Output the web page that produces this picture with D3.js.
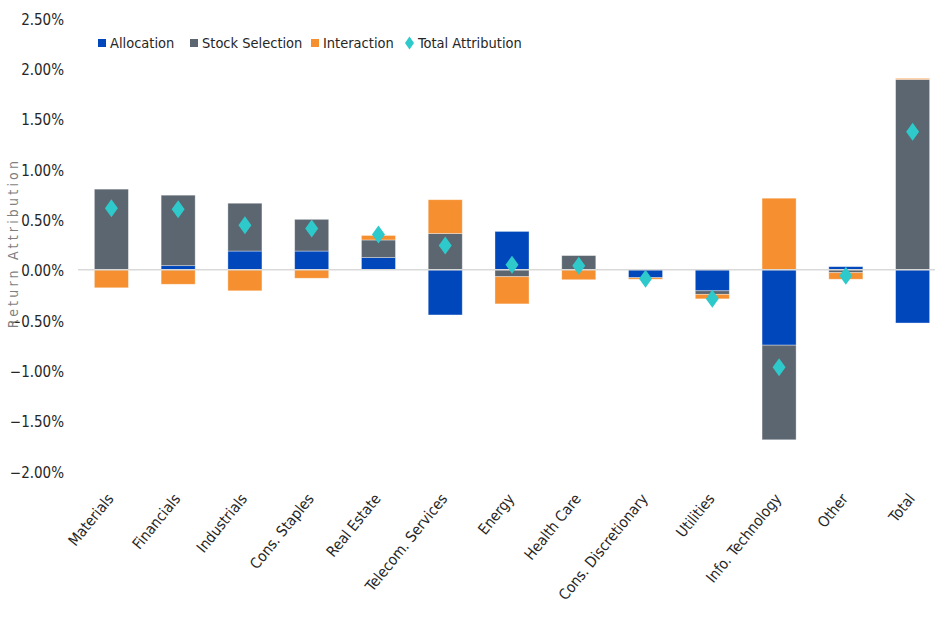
<!DOCTYPE html>
<html>
<head>
<meta charset="utf-8">
<script src="https://cdn.jsdelivr.net/npm/d3@7"></script>
<style>
  body { margin: 0; background: #fff; }
  text { font-family: 'Liberation Sans Narrow', 'DejaVu Sans Condensed', 'Liberation Sans', sans-serif; }
</style>
</head>
<body>
<svg id="chart" width="935" height="617"></svg>
<script>
//chart data (values in %)
const categories = ['Materials', 'Financials', 'Industrials', 'Cons. Staples', 'Real Estate',
  'Telecom. Services', 'Energy', 'Health Care', 'Cons. Discretionary', 'Utilities',
  'Info. Technology', 'Other', 'Total']
const allocation = [0.00, 0.04, 0.185, 0.185, 0.12, -0.45, 0.38, 0.00, -0.08, -0.21, -0.75, 0.03, -0.53]
const stockSelection = [0.80, 0.70, 0.475, 0.315, 0.175, 0.36, -0.07, 0.14, 0.00, -0.035, -0.94, -0.03, 1.89]
const interaction = [-0.18, -0.145, -0.21, -0.085, 0.045, 0.335, -0.27, -0.10, -0.015, -0.045, 0.71, -0.065, 0.01]
const totalAttribution = [0.61, 0.60, 0.44, 0.41, 0.35, 0.24, 0.05, 0.04, -0.09, -0.29, -0.97, -0.06, 1.37]
const yTicks = [-2.0, -1.5, -1.0, -0.5, 0.0, 0.5, 1.0, 1.5, 2.0, 2.5]

const seriesKeys = ['Allocation', 'Stock Selection', 'Interaction']
const seriesColor = d3.scaleOrdinal()
  .domain(seriesKeys)
  .range(['#0047bb', '#5b6670', '#f58f2f'])
const diamondColor = '#2ec9cb'

// build rows for d3.stack
var rows = categories.map(function (c, i) {
  return {
    category: c,
    'Allocation': allocation[i],
    'Stock Selection': stockSelection[i],
    'Interaction': interaction[i]
  }
})

var svg = d3.select('#chart')

// scales
var x = d3.scaleBand()
  .domain(categories)
  .range([78, 946])
  .paddingInner(0.49)
  .paddingOuter(0.245)

var y = d3.scaleLinear()
  .domain([-2, 2.5])
  .range([471, 18])

// y axis labels (no axis line)
var yAxis = svg.append('g')
  .attr('transform', 'translate(64,0)')
  .call(d3.axisLeft(y).tickValues(yTicks).tickSize(0).tickPadding(0)
    .tickFormat(function (d) { return d3.format('.2f')(d) + '%' }))
yAxis.select('.domain').remove()
yAxis.selectAll('text')
  .attr('dy', '0.4em')
  .style('font-size', '15px')
  .style('fill', '#262626')

// y axis title
svg.append('text')
  .attr('transform', 'translate(18,' + 243 + ') rotate(-90)')
  .attr('text-anchor', 'middle')
  .style('font-size', '14px')
  .style('letter-spacing', '3.2px')
  .style('fill', '#7f7f7f')
  .text('Return Attribution')

// stacked bars, positives and negatives stacked separately
var stacked = d3.stack()
  .keys(seriesKeys)
  .offset(d3.stackOffsetDiverging)(rows)

svg.append('g')
  .selectAll('g')
  .data(stacked)
  .enter()
  .append('g')
  .attr('fill', function (d) { return seriesColor(d.key) })
  .selectAll('rect')
  .data(function (d) { return d })
  .enter()
  .append('rect')
  .attr('x', function (d) { return x(d.data.category) })
  .attr('width', x.bandwidth())
  .attr('y', function (d) { return y(Math.max(d[0], d[1])) })
  .attr('height', function (d) { return Math.abs(y(d[0]) - y(d[1])) })
  .attr('stroke', '#ffffff')
  .attr('stroke-opacity', 0.45)
  .attr('stroke-width', 0.8)

// zero line
svg.append('line')
  .attr('x1', x.range()[0])
  .attr('x2', 935)
  .attr('y1', y(0))
  .attr('y2', y(0))
  .style('stroke', '#d9d9d9')
  .style('stroke-width', 1.5)

// diamond marker path
function diamond(w, h) {
  return 'M0,' + (-h / 2) + 'L' + (w / 2) + ',0L0,' + (h / 2) + 'L' + (-w / 2) + ',0Z'
}

// total attribution markers
svg.append('g')
  .selectAll('path')
  .data(totalAttribution)
  .enter()
  .append('path')
  .attr('transform', function (d, i) {
    return 'translate(' + (x(categories[i]) + x.bandwidth() / 2) + ',' + y(d) + ')'
  })
  .attr('d', diamond(13, 18))
  .style('fill', diamondColor)

// x axis labels, rotated
svg.append('g')
  .selectAll('text')
  .data(categories)
  .enter()
  .append('text')
  .attr('transform', function (d) {
    return 'translate(' + (x(d) + x.bandwidth() / 2 + 3) + ',' + 499 + ') rotate(-51)'
  })
  .attr('text-anchor', 'end')
  .style('font-size', '15px')
  .style('fill', '#262626')
  .text(function (d) { return d })

// legend
var legendItems = [
  { key: 'Allocation', x: 98 },
  { key: 'Stock Selection', x: 190 },
  { key: 'Interaction', x: 311 },
  { key: 'Total Attribution', x: 405 }
]
var legend = svg.append('g')
  .selectAll('g')
  .data(legendItems)
  .enter()
  .append('g')
  .attr('transform', function (d) { return 'translate(' + d.x + ',43)' })

legend.each(function (d) {
  var g = d3.select(this)
  if (d.key === 'Total Attribution') {
    g.append('path')
      .attr('transform', 'translate(4.5,0)')
      .attr('d', diamond(9, 13))
      .style('fill', diamondColor)
  } else {
    g.append('rect')
      .attr('x', 0)
      .attr('y', -4)
      .attr('width', 8)
      .attr('height', 8)
      .style('fill', seriesColor(d.key))
  }
  g.append('text')
    .attr('x', d.key === 'Total Attribution' ? 13 : 12)
    .attr('y', 0)
    .attr('dy', '0.36em')
    .style('font-size', '14.5px')
    .style('fill', '#262626')
    .text(d.key)
})
</script>
</body>
</html>
